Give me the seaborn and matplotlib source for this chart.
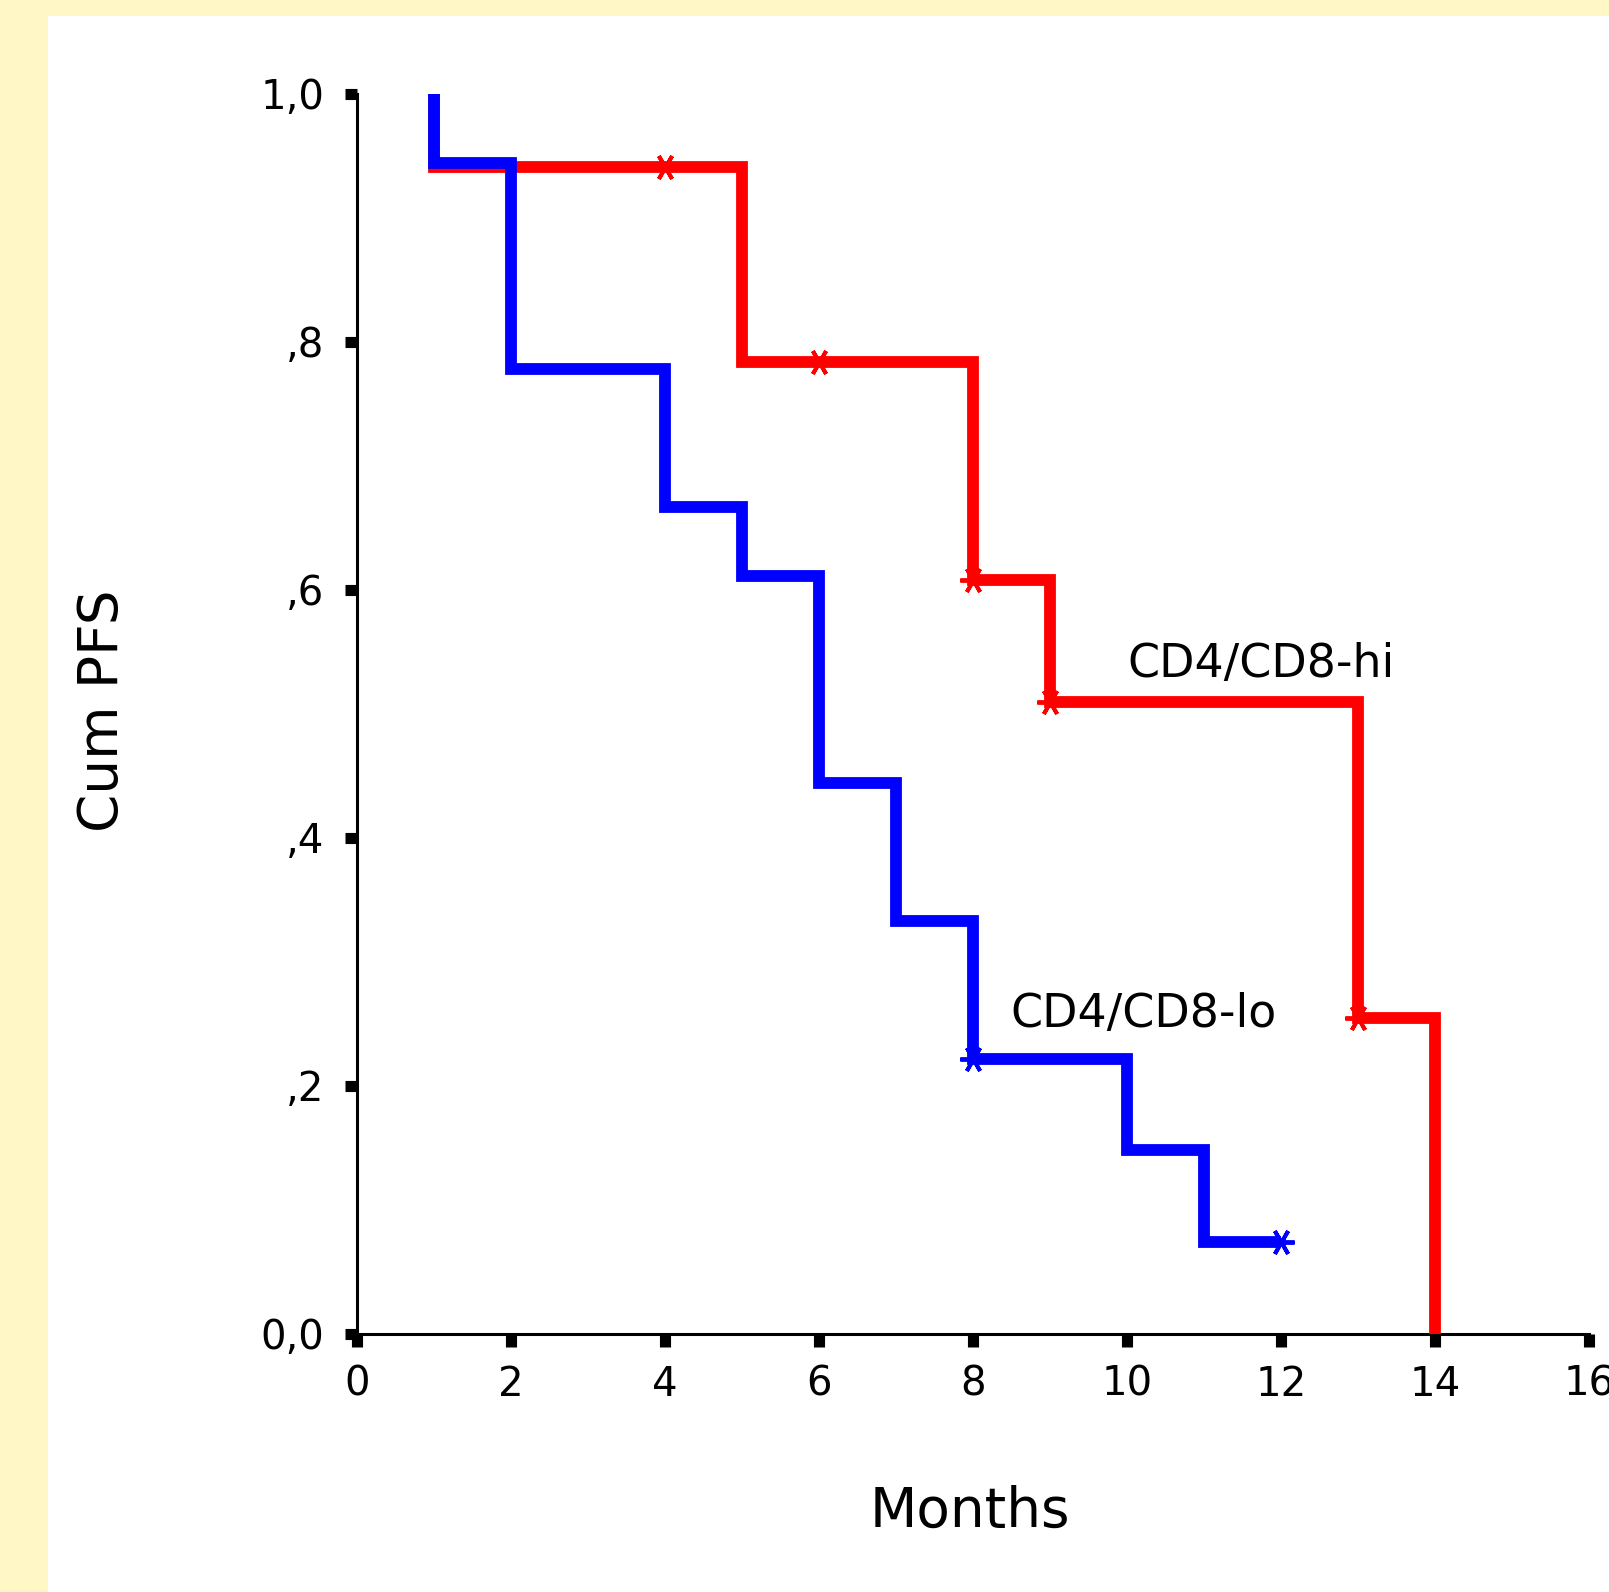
import matplotlib
matplotlib.use("Agg")
import matplotlib.pyplot as plt
from matplotlib.patches import Rectangle
import seaborn as sns
import pandas as pd

# ---- data ----
lo_times = [1, 1, 2, 4, 5, 6, 7, 8, 10, 11, 12]
lo_surv = [1.0, 0.944, 0.778, 0.667, 0.611, 0.444, 0.333, 0.222, 0.148, 0.074, 0.074]
lo_cens_t = [8, 12]
lo_cens_s = [0.222, 0.074]

hi_times = [1, 1, 5, 8, 9, 13, 14]
hi_surv = [1.0, 0.941, 0.784, 0.608, 0.510, 0.255, 0.0]
hi_cens_t = [4, 6, 8, 9, 13]
hi_cens_s = [0.941, 0.784, 0.608, 0.510, 0.255]

x_ticks = [0, 2, 4, 6, 8, 10, 12, 14, 16]
y_ticks = [0.0, 0.2, 0.4, 0.6, 0.8, 1.0]
y_ticklabels = ["0,0", ",2", ",4", ",6", ",8", "1,0"]
label_hi = "CD4/CD8-hi"
label_lo = "CD4/CD8-lo"

sns.set_theme(style="white")
plt.rcParams["font.family"] = ["DejaVu Sans"]
for k in ["text.color", "axes.labelcolor", "xtick.color", "ytick.color"]:
    plt.rcParams[k] = "black"

W, H = 1609, 1592
fig = plt.figure(figsize=(W / 100, H / 100), dpi=100)
fig.patch.set_facecolor("#FFF8C6")
fig.add_artist(Rectangle((48 / W, 0), 1, 1 - 16 / H, transform=fig.transFigure,
                         facecolor="white", edgecolor="none", zorder=0))

x0, x16 = 357, 1589
y1, y0 = 94, 1334
ax = fig.add_axes([x0 / W, 1 - y0 / H, (x16 - x0) / W, (y0 - y1) / H])
ax.set_facecolor("none")

hi_df = pd.DataFrame({"Months": hi_times, "S": hi_surv})
lo_df = pd.DataFrame({"Months": lo_times, "S": lo_surv})

lw = 8.5
red, blue = "#FF0000", "#0000FF"
sns.lineplot(data=hi_df, x="Months", y="S", estimator=None, sort=False,
             drawstyle="steps-post", color=red, linewidth=lw, ax=ax,
             solid_joinstyle="miter", solid_capstyle="butt", zorder=3)
sns.lineplot(x=hi_cens_t, y=hi_cens_s, estimator=None, sort=False, color=red,
             linestyle="", marker=(6, 2, 90), markersize=19, markeredgewidth=2.8,
             markeredgecolor=red, markerfacecolor=red, ax=ax, zorder=4)
sns.lineplot(data=lo_df, x="Months", y="S", estimator=None, sort=False,
             drawstyle="steps-post", color=blue, linewidth=lw, ax=ax,
             solid_joinstyle="miter", solid_capstyle="butt", zorder=5)
sns.lineplot(x=lo_cens_t, y=lo_cens_s, estimator=None, sort=False, color=blue,
             linestyle="", marker=(6, 2, 90), markersize=19, markeredgewidth=2.8,
             markeredgecolor=blue, markerfacecolor=blue, ax=ax, zorder=6)

ax.set_xlim(0, 16)
ax.set_ylim(0, 1.0)
ax.set_xticks(x_ticks)
ax.set_xticklabels([str(t) for t in x_ticks])
ax.set_yticks(y_ticks)
ax.set_yticklabels(y_ticklabels)

for s in ["top", "right"]:
    ax.spines[s].set_visible(False)
for s in ["left", "bottom"]:
    ax.spines[s].set_color("black")
    ax.spines[s].set_linewidth(2.2)

ax.tick_params(axis="y", direction="out", length=8.6, width=8, color="black",
               labelcolor="black", labelsize=29, pad=15, left=True)
ax.tick_params(axis="x", direction="out", length=9, width=8, color="black",
               labelcolor="black", labelsize=29, pad=13, bottom=True)

ax.set_xlabel("Months", fontsize=39.5, color="black")
ax.set_ylabel("Cum PFS", fontsize=39.5, color="black")
ax.xaxis.set_label_coords((970 - x0) / (x16 - x0), (y0 - 1512) / (y0 - y1))
ax.xaxis.label.set_va("center")
ax.yaxis.set_label_coords((103 - x0) / (x16 - x0), (y0 - 711) / (y0 - y1))
ax.yaxis.label.set_va("center")

ax.text(10.0, 0.540, label_hi, fontsize=33, ha="left", va="center", color="black")
ax.text(8.49, 0.258, label_lo, fontsize=33, ha="left", va="center", color="black")

fig.savefig("out.png", dpi=100, facecolor=fig.get_facecolor())
